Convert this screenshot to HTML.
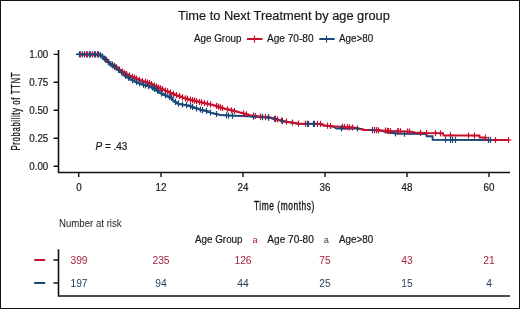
<!DOCTYPE html>
<html><head><meta charset="utf-8"><style>
html,body{margin:0;padding:0;background:#fff;}
body{width:520px;height:309px;overflow:hidden;}
svg{display:block;will-change:transform;font-family:"Liberation Sans",sans-serif;}
</style></head><body>
<svg width="520" height="309" viewBox="0 0 520 309">
<rect x="0.5" y="0.5" width="519" height="308" fill="#fff" stroke="#111" stroke-width="1"/>
<path d="M247,39H262.5" stroke="#C8102E" stroke-width="2"/>
<path d="M254.5,35.6V42.5" stroke="#C8102E" stroke-width="1.2"/>
<path d="M319.3,39H334.6" stroke="#184878" stroke-width="2"/>
<path d="M326.5,35.6V42.5" stroke="#184878" stroke-width="1.2"/>
<path d="M58.5,50V172.5H510" fill="none" stroke="#111" stroke-width="1.6"/>
<path d="M53.6,54.4H58.5M53.6,82.3H58.5M53.6,110.3H58.5M53.6,138.2H58.5M53.6,166.2H58.5" stroke="#111" stroke-width="1.4"/>
<path d="M78.7,172.5V177M161,172.5V177M243,172.5V177M325,172.5V177M407,172.5V177M489,172.5V177" stroke="#111" stroke-width="1.4"/>
<path d="M79.0,54.4 L99.0,54.4 L102.0,56.5 L106.0,60.5 L110.0,64.0 L115.0,67.5 L119.0,70.6 L125.0,75.9 L133.4,80.9 L141.8,84.3 L150.2,86.8 L155.0,89.3 L162.0,94.0 L170.6,97.5 L173.0,100.0 L175.6,102.5 L179.0,104.0 L185.0,105.0 L189.2,105.9 L193.4,107.5 L197.6,108.8 L201.8,110.1 L206.0,110.9 L210.2,112.6 L215.0,113.8 L220.4,115.1 L228.8,115.5 L242.0,116.0 L248.4,116.3 L256.8,116.8 L270.0,117.7 L276.4,119.4 L284.8,121.5 L293.2,122.8 L298.0,123.7 L321.0,124.0 L324.0,125.5 L333.0,126.5 L336.6,128.4 L345.0,128.4 L357.0,128.5 L362.0,129.3 L364.6,130.1 L373.0,130.1 L380.0,130.6 L390.0,132.7 L396.8,133.5 L426.5,134.0 L426.7,136.3 L432.5,136.3 L432.7,139.7 L490.0,139.9" fill="none" stroke="#184878" stroke-width="2"/>
<path d="M79.0,54.4 L99.0,54.4 L102.0,56.0 L106.0,59.8 L110.0,63.3 L115.0,66.5 L119.0,69.6 L123.0,72.3 L125.0,73.6 L133.4,77.5 L141.8,80.9 L150.2,83.6 L158.0,87.5 L166.4,91.1 L174.8,94.7 L183.2,97.7 L188.0,99.2 L193.4,100.6 L201.8,102.5 L210.2,104.4 L215.0,105.5 L220.4,107.6 L228.8,109.7 L237.2,111.8 L242.0,113.0 L248.4,115.0 L256.8,116.3 L270.0,117.6 L276.4,119.3 L284.8,121.4 L293.2,122.7 L298.0,123.6 L321.0,123.9 L324.0,125.4 L332.4,126.2 L340.8,126.7 L354.0,127.6 L357.0,128.3 L362.0,129.2 L364.6,129.9 L373.0,130.0 L382.0,130.5 L388.4,131.0 L401.0,131.4 L410.0,131.6 L415.0,132.5 L425.0,133.1 L443.0,133.3 L443.5,135.4 L479.4,135.6 L479.6,137.6 L485.2,137.6 L485.4,140.0 L509.2,140.0" fill="none" stroke="#C8102E" stroke-width="2"/>
<path d="M80.5,51.3V57.5M77.5,54.4H83.5M86.5,51.3V57.5M83.5,54.4H89.5M87.5,51.3V57.5M84.5,54.4H90.5M92.5,51.3V57.5M89.5,54.4H95.5M97.5,51.3V57.5M94.5,54.4H100.5M106.5,56.7V62.9M103.5,59.8H109.5M112.5,61.5V67.7M109.5,64.6H115.5M114.5,62.8V69.0M111.5,65.9H117.5M116.5,64.2V70.4M113.5,67.3H119.5M119.5,66.5V72.7M116.5,69.6H122.5M122.5,68.5V74.7M119.5,71.6H125.5M124.5,69.8V76.0M121.5,72.9H127.5M126.5,71.0V77.2M123.5,74.1H129.5M129.5,72.4V78.6M126.5,75.5H132.5M132.5,73.8V79.9M129.5,76.8H135.5M134.5,74.6V80.8M131.5,77.7H137.5M136.5,75.5V81.7M133.5,78.6H139.5M139.5,76.7V82.9M136.5,79.8H142.5M142.5,77.9V84.1M139.5,81.0H145.5M145.5,78.8V85.0M142.5,81.9H148.5M147.5,79.5V85.7M144.5,82.6H150.5M149.5,80.1V86.3M146.5,83.2H152.5M151.5,80.9V87.1M148.5,84.0H154.5M154.5,82.4V88.6M151.5,85.5H157.5M156.5,83.4V89.6M153.5,86.5H159.5M158.5,84.4V90.6M155.5,87.5H161.5M160.5,85.3V91.5M157.5,88.4H163.5M162.5,86.1V92.3M159.5,89.2H165.5M165.5,87.4V93.6M162.5,90.5H168.5M167.5,88.3V94.5M164.5,91.4H170.5M170.5,89.5V95.7M167.5,92.6H173.5M173.5,90.8V97.0M170.5,93.9H176.5M176.5,92.0V98.2M173.5,95.1H179.5M179.5,93.1V99.3M176.5,96.2H182.5M182.5,94.2V100.4M179.5,97.3H185.5M185.5,95.2V101.4M182.5,98.3H188.5M187.5,95.8V102.0M184.5,98.9H190.5M190.5,96.6V102.8M187.5,99.7H193.5M192.5,97.1V103.3M189.5,100.2H195.5M194.5,97.6V103.8M191.5,100.7H197.5M196.5,98.1V104.3M193.5,101.2H199.5M199.5,98.8V105.0M196.5,101.9H202.5M201.5,99.2V105.4M198.5,102.3H204.5M204.5,99.9V106.1M201.5,103.0H207.5M207.5,100.6V106.8M204.5,103.7H210.5M210.5,101.3V107.5M207.5,104.4H213.5M216.5,102.8V109.0M213.5,105.9H219.5M218.5,103.6V109.8M215.5,106.7H221.5M220.5,104.3V110.5M217.5,107.4H223.5M222.5,104.9V111.1M219.5,108.0H225.5M227.5,106.2V112.3M224.5,109.2H230.5M231.5,107.2V113.3M228.5,110.2H234.5M234.5,107.9V114.1M231.5,111.0H237.5M243.5,110.2V116.4M240.5,113.3H246.5M246.5,111.2V117.3M243.5,114.2H249.5M253.5,112.6V118.8M250.5,115.7H256.5M255.5,112.9V119.1M252.5,116.0H258.5M260.5,113.5V119.7M257.5,116.6H263.5M265.5,114.0V120.2M262.5,117.1H268.5M268.5,114.3V120.5M265.5,117.4H271.5M275.5,115.8V122.0M272.5,118.9H278.5M277.5,116.4V122.5M274.5,119.5H280.5M281.5,117.4V123.5M278.5,120.5H284.5M286.5,118.5V124.7M283.5,121.6H289.5M292.5,119.4V125.6M289.5,122.5H295.5M298.5,120.5V126.7M295.5,123.6H301.5M305.5,120.6V126.8M302.5,123.7H308.5M317.5,120.7V126.9M314.5,123.8H320.5M320.5,120.8V127.0M317.5,123.9H323.5M327.5,122.6V128.8M324.5,125.7H330.5M330.5,122.9V129.1M327.5,126.0H333.5M342.5,123.7V129.9M339.5,126.8H345.5M344.5,123.8V130.0M341.5,126.9H347.5M347.5,124.0V130.2M344.5,127.1H350.5M349.5,124.2V130.4M346.5,127.3H352.5M352.5,124.4V130.6M349.5,127.5H355.5M374.5,127.0V133.2M371.5,130.1H377.5M376.5,127.1V133.3M373.5,130.2H379.5M378.5,127.2V133.4M375.5,130.3H381.5M385.5,127.6V133.8M382.5,130.7H388.5M387.5,127.8V134.0M384.5,130.9H390.5M388.5,127.9V134.1M385.5,131.0H391.5M390.5,128.0V134.2M387.5,131.1H393.5M397.5,128.2V134.4M394.5,131.3H400.5M398.5,128.2V134.4M395.5,131.3H401.5M400.5,128.3V134.5M397.5,131.4H403.5M407.5,128.4V134.6M404.5,131.5H410.5M409.5,128.5V134.7M406.5,131.6H412.5M420.5,129.7V135.9M417.5,132.8H423.5M426.5,130.0V136.2M423.5,133.1H429.5M435.5,130.1V136.3M432.5,133.2H438.5M440.5,130.2V136.4M437.5,133.3H443.5M450.5,132.3V138.5M447.5,135.4H453.5M468.5,132.4V138.6M465.5,135.5H471.5M474.5,132.5V138.7M471.5,135.6H477.5M485.5,134.5V140.7M482.5,137.6H488.5M495.5,136.9V143.1M492.5,140.0H498.5M508.5,136.9V143.1M505.5,140.0H511.5" fill="none" stroke="#C8102E" stroke-width="1.2"/>
<path d="M79.5,51.3V57.5M76.5,54.4H82.5M82.5,51.3V57.5M79.5,54.4H85.5M84.5,51.3V57.5M81.5,54.4H87.5M89.5,51.3V57.5M86.5,54.4H92.5M90.5,51.3V57.5M87.5,54.4H93.5M94.5,51.3V57.5M91.5,54.4H97.5M95.5,51.3V57.5M92.5,54.4H98.5M98.5,51.3V57.5M95.5,54.4H101.5M100.5,52.0V58.2M97.5,55.1H103.5M102.5,53.4V59.6M99.5,56.5H105.5M104.5,55.4V61.6M101.5,58.5H107.5M105.5,56.4V62.6M102.5,59.5H108.5M108.5,59.1V65.3M105.5,62.2H111.5M110.5,60.9V67.1M107.5,64.0H113.5M112.5,62.3V68.5M109.5,65.4H115.5M114.5,63.7V69.9M111.5,66.8H117.5M118.5,66.7V72.9M115.5,69.8H121.5M121.5,69.3V75.5M118.5,72.4H124.5M125.5,72.8V79.0M122.5,75.9H128.5M128.5,74.6V80.8M125.5,77.7H131.5M132.5,77.0V83.2M129.5,80.1H135.5M136.5,78.9V85.1M133.5,82.0H139.5M139.5,80.1V86.3M136.5,83.2H142.5M143.5,81.6V87.8M140.5,84.7H146.5M145.5,82.2V88.4M142.5,85.3H148.5M148.5,83.0V89.2M145.5,86.1H151.5M152.5,84.6V90.8M149.5,87.7H155.5M154.5,85.7V91.9M151.5,88.8H157.5M157.5,87.5V93.7M154.5,90.6H160.5M161.5,90.2V96.4M158.5,93.3H164.5M165.5,92.1V98.3M162.5,95.2H168.5M169.5,93.7V99.9M166.5,96.8H172.5M171.5,94.8V101.0M168.5,97.9H174.5M175.5,98.8V105.0M172.5,101.9H178.5M178.5,100.5V106.7M175.5,103.6H181.5M182.5,101.4V107.6M179.5,104.5H185.5M186.5,102.1V108.3M183.5,105.2H189.5M190.5,103.1V109.3M187.5,106.2H193.5M192.5,103.9V110.1M189.5,107.0H195.5M196.5,105.2V111.4M193.5,108.3H199.5M200.5,106.4V112.6M197.5,109.5H203.5M202.5,107.0V113.2M199.5,110.1H205.5M206.5,107.8V114.0M203.5,110.9H209.5M210.5,109.4V115.6M207.5,112.5H213.5M216.5,110.9V117.1M213.5,114.0H219.5M226.5,112.3V118.5M223.5,115.4H229.5M228.5,112.4V118.6M225.5,115.5H231.5M232.5,112.5V118.7M229.5,115.6H235.5M253.5,113.5V119.7M250.5,116.6H256.5M262.5,114.1V120.3M259.5,117.2H265.5M268.5,114.5V120.7M265.5,117.6H271.5M274.5,115.7V121.9M271.5,118.8H277.5M282.5,117.7V123.9M279.5,120.8H285.5M307.5,120.7V126.9M304.5,123.8H310.5M308.5,120.7V126.9M305.5,123.8H311.5M313.5,120.8V127.0M310.5,123.9H316.5M314.5,120.8V127.0M311.5,123.9H317.5M341.5,125.3V131.5M338.5,128.4H344.5M357.5,125.4V131.6M354.5,128.5H360.5M372.5,127.0V133.2M369.5,130.1H375.5M395.5,130.2V136.4M392.5,133.3H398.5M404.5,130.5V136.7M401.5,133.6H407.5M445.5,136.6V142.8M442.5,139.7H448.5M450.5,136.7V142.9M447.5,139.8H453.5M452.5,136.7V142.9M449.5,139.8H455.5M455.5,136.7V142.9M452.5,139.8H458.5M488.5,136.8V143.0M485.5,139.9H491.5M490.5,136.8V143.0M487.5,139.9H493.5" fill="none" stroke="#184878" stroke-width="1.2"/>
<path d="M76,54.4H79" stroke="#184878" stroke-width="1.5"/>
<path d="M58.5,249.3V296H510" fill="none" stroke="#111" stroke-width="1.6"/>
<path d="M53.5,260H58.5M53.5,283H58.5" stroke="#111" stroke-width="1.4"/>
<path d="M34.2,260H45.2" stroke="#C8102E" stroke-width="2"/>
<path d="M34.2,283H45.2" stroke="#184878" stroke-width="2"/>
<text transform="translate(284.00,19.70) scale(0.965,1)" font-size="13.30" text-anchor="middle" fill="#1a1a1a" stroke="#1a1a1a" stroke-width="0.20">Time to Next Treatment by age group</text>
<text transform="translate(194.00,42.00) scale(0.955,1)" font-size="10.30" fill="#1a1a1a" stroke="#1a1a1a" stroke-width="0.20">Age Group</text>
<text transform="translate(267.00,42.00) scale(0.980,1)" font-size="10.30" fill="#1a1a1a" stroke="#1a1a1a" stroke-width="0.20">Age 70-80</text>
<text transform="translate(339.00,42.00) scale(0.955,1)" font-size="10.30" fill="#1a1a1a" stroke="#1a1a1a" stroke-width="0.20">Age&gt;80</text>
<text transform="translate(48.30,58.15) scale(0.930,1)" font-size="10.50" text-anchor="end" fill="#1a1a1a" stroke="#1a1a1a" stroke-width="0.20">1.00</text>
<text transform="translate(48.30,86.05) scale(0.930,1)" font-size="10.50" text-anchor="end" fill="#1a1a1a" stroke="#1a1a1a" stroke-width="0.20">0.75</text>
<text transform="translate(48.30,114.05) scale(0.930,1)" font-size="10.50" text-anchor="end" fill="#1a1a1a" stroke="#1a1a1a" stroke-width="0.20">0.50</text>
<text transform="translate(48.30,141.95) scale(0.930,1)" font-size="10.50" text-anchor="end" fill="#1a1a1a" stroke="#1a1a1a" stroke-width="0.20">0.25</text>
<text transform="translate(48.30,169.95) scale(0.930,1)" font-size="10.50" text-anchor="end" fill="#1a1a1a" stroke="#1a1a1a" stroke-width="0.20">0.00</text>
<text transform="translate(79.00,190.90) scale(0.970,1)" font-size="10.10" text-anchor="middle" fill="#1a1a1a" stroke="#1a1a1a" stroke-width="0.20">0</text>
<text transform="translate(161.00,190.90) scale(0.970,1)" font-size="10.10" text-anchor="middle" fill="#1a1a1a" stroke="#1a1a1a" stroke-width="0.20">12</text>
<text transform="translate(243.00,190.90) scale(0.970,1)" font-size="10.10" text-anchor="middle" fill="#1a1a1a" stroke="#1a1a1a" stroke-width="0.20">24</text>
<text transform="translate(325.00,190.90) scale(0.970,1)" font-size="10.10" text-anchor="middle" fill="#1a1a1a" stroke="#1a1a1a" stroke-width="0.20">36</text>
<text transform="translate(407.00,190.90) scale(0.970,1)" font-size="10.10" text-anchor="middle" fill="#1a1a1a" stroke="#1a1a1a" stroke-width="0.20">48</text>
<text transform="translate(489.00,190.90) scale(0.970,1)" font-size="10.10" text-anchor="middle" fill="#1a1a1a" stroke="#1a1a1a" stroke-width="0.20">60</text>
<text transform="translate(284.40,209.80) scale(0.630,1)" font-size="13.30" text-anchor="middle" fill="#111" stroke="#111" stroke-width="0.35" letter-spacing="0.9">Time (months)</text>
<text transform="translate(20.3,111.2) rotate(-90) scale(0.62,1)" font-size="12.8" stroke="#111" stroke-width="0.25" letter-spacing="0.9" text-anchor="middle" fill="#111">Probability of TTNT</text>
<text transform="translate(95.50,149.60) scale(0.970,1)" font-size="10.30" fill="#1a1a1a" stroke="#1a1a1a" stroke-width="0.20"><tspan font-style="italic">P</tspan> = .43</text>
<text transform="translate(59.00,226.60) scale(0.965,1)" font-size="10.00" fill="#1a1a1a" stroke="none">Number at risk</text>
<text transform="translate(195.00,243.20) scale(0.955,1)" font-size="10.30" fill="#1a1a1a" stroke="#1a1a1a" stroke-width="0.20">Age Group</text>
<text transform="translate(252.60,243.10) scale(0.950,1)" font-size="9.80" fill="#A3223F" stroke="none">a</text>
<text transform="translate(267.30,243.20) scale(0.980,1)" font-size="10.30" fill="#1a1a1a" stroke="#1a1a1a" stroke-width="0.20">Age 70-80</text>
<text transform="translate(323.80,243.10) scale(0.950,1)" font-size="9.80" fill="#27405F" stroke="none">a</text>
<text transform="translate(339.00,243.20) scale(0.955,1)" font-size="10.30" fill="#1a1a1a" stroke="#1a1a1a" stroke-width="0.20">Age&gt;80</text>
<text transform="translate(79.00,263.70) scale(0.980,1)" font-size="10.50" text-anchor="middle" fill="#A3223F" stroke="none">399</text>
<text transform="translate(161.00,263.70) scale(0.980,1)" font-size="10.50" text-anchor="middle" fill="#A3223F" stroke="none">235</text>
<text transform="translate(243.00,263.70) scale(0.980,1)" font-size="10.50" text-anchor="middle" fill="#A3223F" stroke="none">126</text>
<text transform="translate(325.00,263.70) scale(0.980,1)" font-size="10.50" text-anchor="middle" fill="#A3223F" stroke="none">75</text>
<text transform="translate(407.00,263.70) scale(0.980,1)" font-size="10.50" text-anchor="middle" fill="#A3223F" stroke="none">43</text>
<text transform="translate(489.00,263.70) scale(0.980,1)" font-size="10.50" text-anchor="middle" fill="#A3223F" stroke="none">21</text>
<text transform="translate(79.00,286.90) scale(0.980,1)" font-size="10.50" text-anchor="middle" fill="#27405F" stroke="none">197</text>
<text transform="translate(161.00,286.90) scale(0.980,1)" font-size="10.50" text-anchor="middle" fill="#27405F" stroke="none">94</text>
<text transform="translate(243.00,286.90) scale(0.980,1)" font-size="10.50" text-anchor="middle" fill="#27405F" stroke="none">44</text>
<text transform="translate(325.00,286.90) scale(0.980,1)" font-size="10.50" text-anchor="middle" fill="#27405F" stroke="none">25</text>
<text transform="translate(407.00,286.90) scale(0.980,1)" font-size="10.50" text-anchor="middle" fill="#27405F" stroke="none">15</text>
<text transform="translate(489.00,286.90) scale(0.980,1)" font-size="10.50" text-anchor="middle" fill="#27405F" stroke="none">4</text>
</svg>
</body></html>
